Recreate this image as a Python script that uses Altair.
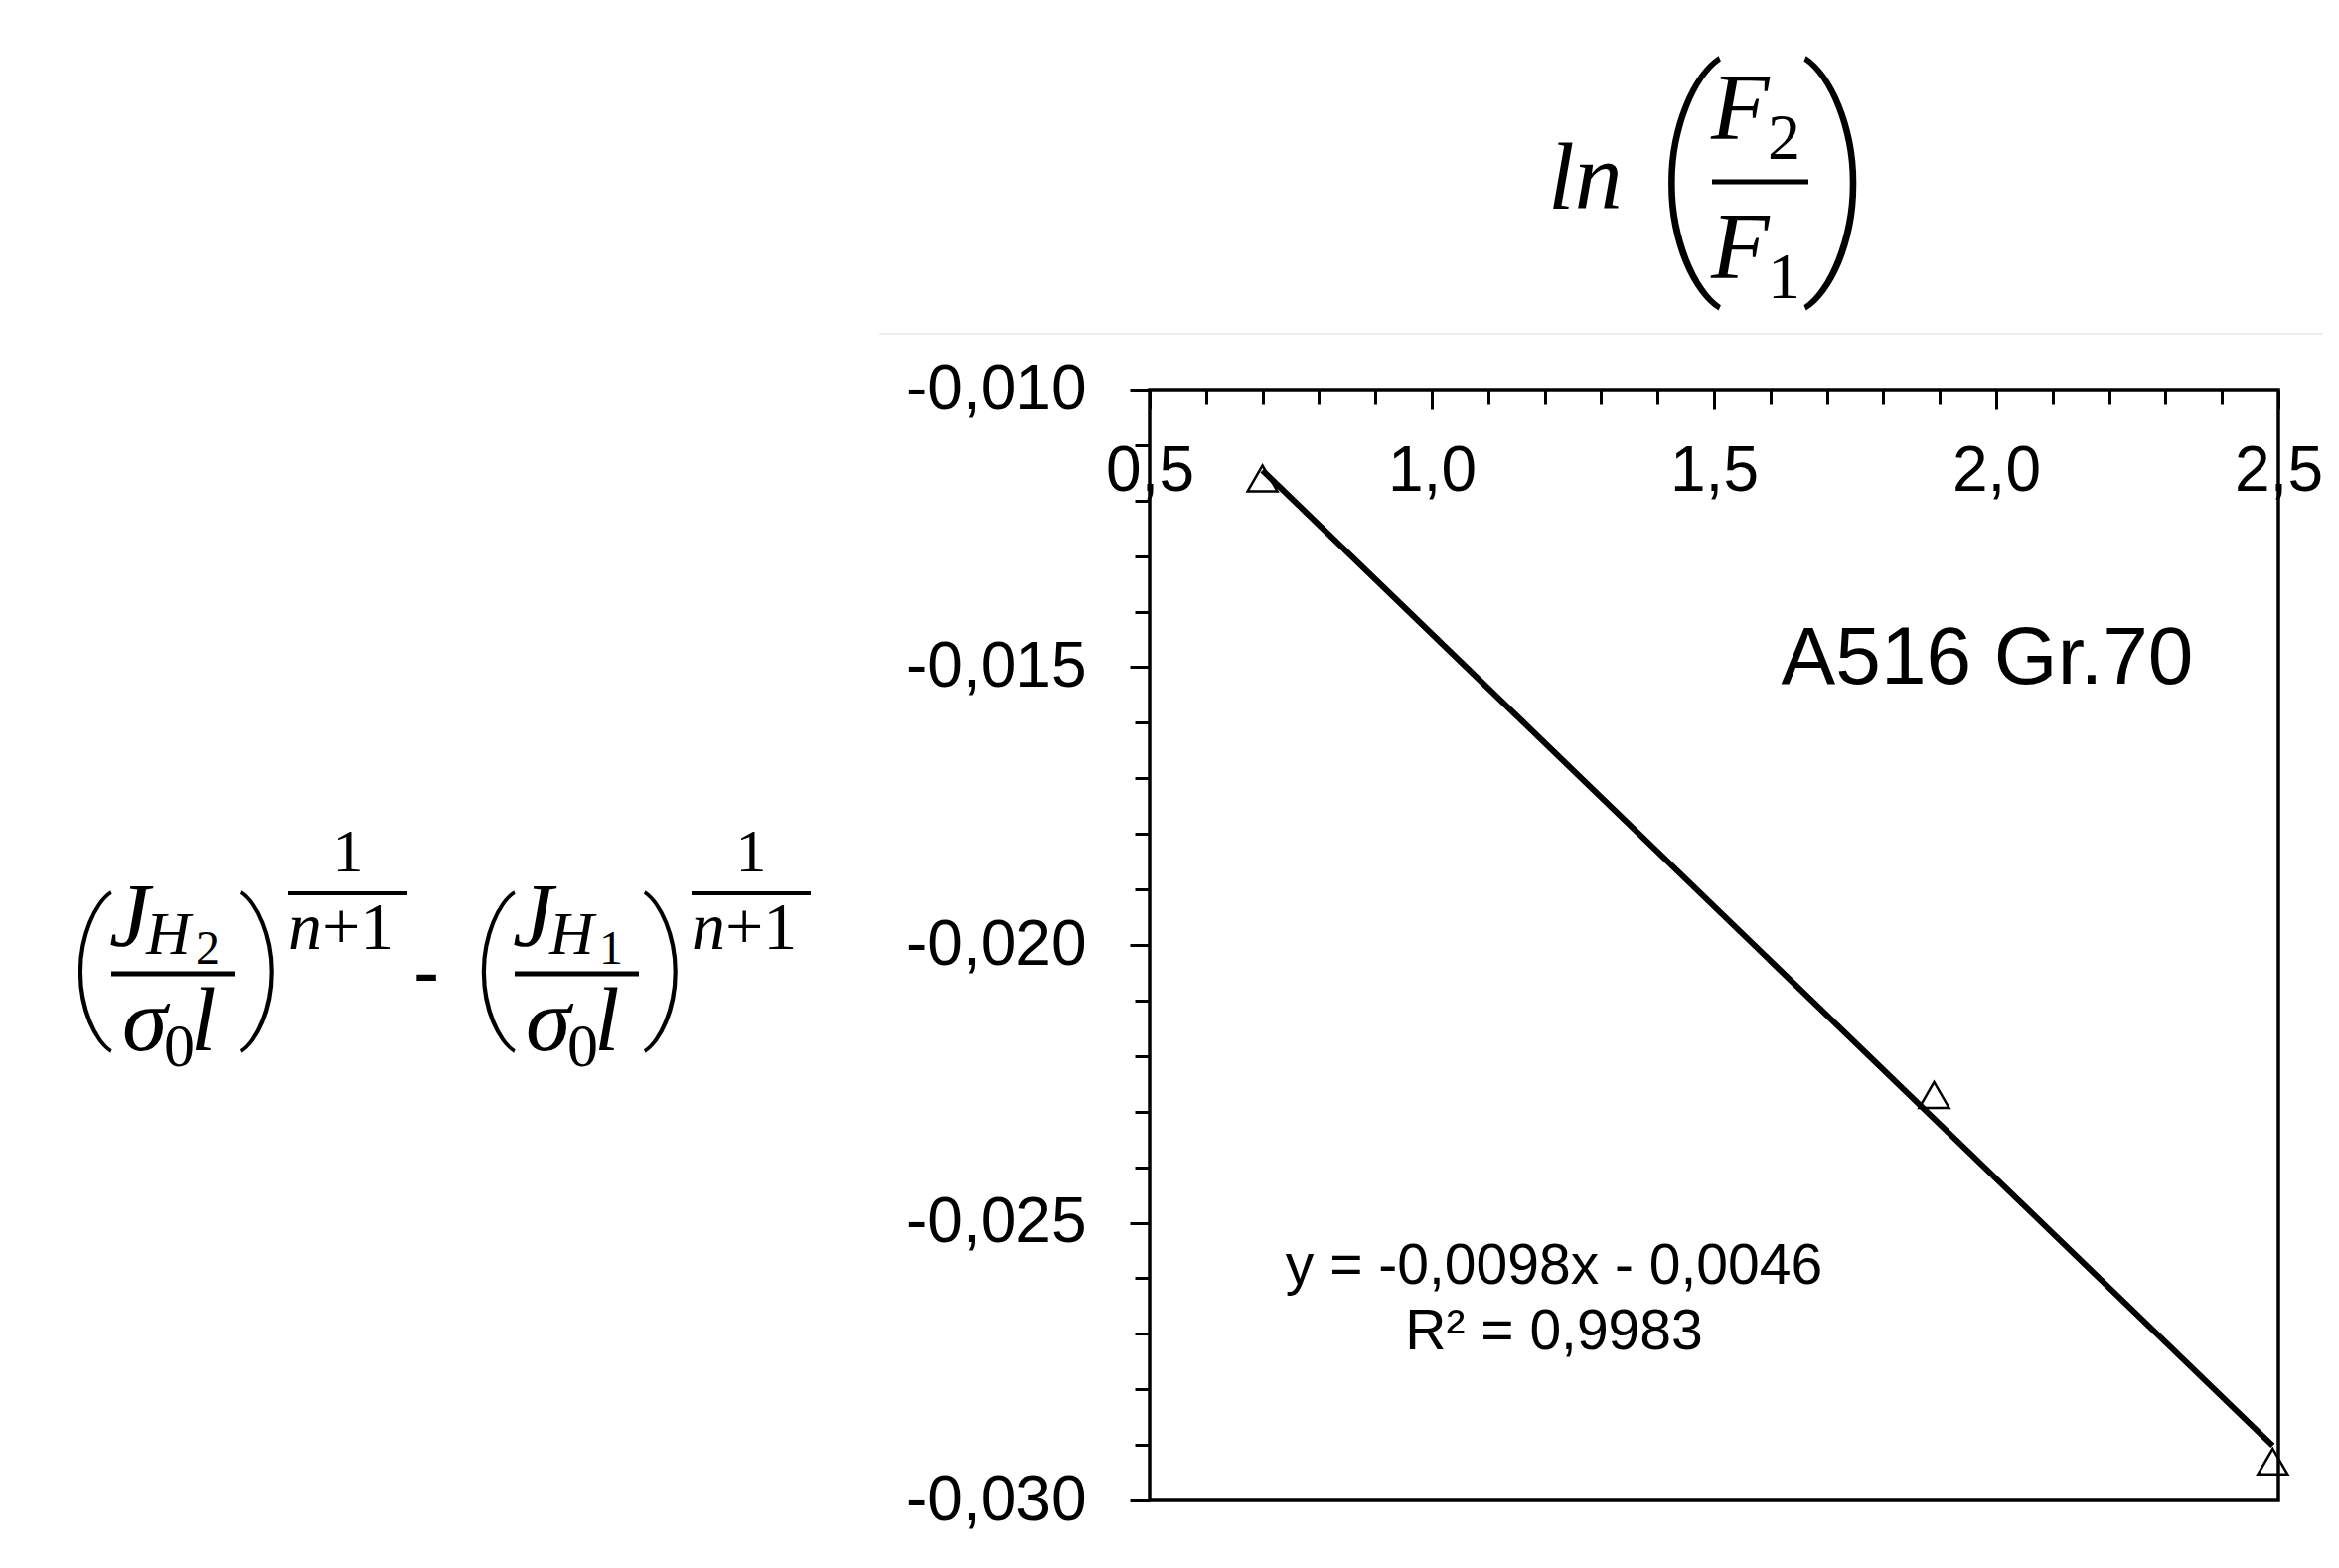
import altair as alt
import pandas as pd

# ---- data ----
x_vals = [0.70, 1.89, 2.49]
y_vals = [-0.0116, -0.0227, -0.0293]

x_major = [0.5, 1.0, 1.5, 2.0, 2.5]
x_minor = [round(0.5 + 0.1 * i, 1) for i in range(21) if i % 5 != 0]
y_major = [-0.030, -0.025, -0.020, -0.015, -0.010]
y_minor = [round(-0.030 + 0.001 * i, 3) for i in range(21) if i % 5 != 0]

material_label = "A516 Gr.70"
eq_line1 = "y = -0,0098x - 0,0046"
eq_line2 = "R² = 0,9983"

df = pd.DataFrame({"x": x_vals, "y": y_vals})
one = pd.DataFrame({"k": [0]})

W, H = 1136, 1118
X0, Y0 = 1157, 392  # page position of the plot origin

SERIF = "Liberation Serif"
SANS = "Liberation Sans"
PF = "Roboto"  # thin parentheses

xscale = alt.Scale(domain=[0.5, 2.5], nice=False, zero=False)
yscale = alt.Scale(domain=[-0.030, -0.010], nice=False, zero=False)

x_lab = "replace(format(datum.value, '.1f'), '.', ',')"
y_lab = "'-' + replace(format(abs(datum.value), '.3f'), '.', ',')"

points = alt.Chart(df).mark_point(
    shape="triangle-up", filled=False, size=900, color="black", strokeWidth=2.5, opacity=1
).encode(
    x=alt.X("x:Q", scale=xscale, axis=alt.Axis(
        orient="bottom", offset=-H, values=x_major, tickSize=20, tickWidth=3,
        tickColor="black", domain=False, grid=False, labelExpr=x_lab,
        labelFont=SANS, labelFontSize=64, labelColor="black", labelPadding=30,
        labelFlush=False, labelOverlap=False, labelLimit=0, title=None)),
    y=alt.Y("y:Q", scale=yscale, axis=alt.Axis(
        orient="left", values=y_major, tickSize=20, tickWidth=3,
        tickColor="black", domain=False, grid=False, labelExpr=y_lab,
        labelFont=SANS, labelFontSize=64, labelColor="black", labelPadding=44,
        labelFlush=False, labelOverlap=False, labelLimit=0, title=None)),
)

trend = alt.Chart(df).transform_regression("x", "y").mark_line(
    color="black", strokeWidth=6
).encode(
    x=alt.X("x:Q", scale=xscale, axis=alt.Axis(
        orient="bottom", offset=-H, values=x_minor, tickSize=15, tickWidth=3,
        tickColor="black", domain=False, grid=False, labels=False, title=None)),
    y=alt.Y("y:Q", scale=yscale, axis=alt.Axis(
        orient="left", values=y_minor, tickSize=15, tickWidth=3,
        tickColor="black", domain=False, grid=False, labels=False, title=None)),
)


def txt(s, x, y, size, font=SERIF, style="italic", align="left", weight="normal"):
    return alt.Chart(one).mark_text(
        text=s, font=font, fontSize=size, fontStyle=style, fontWeight=weight,
        align=align, baseline="alphabetic", color="black"
    ).encode(x=alt.value(x - X0), y=alt.value(y - Y0))


def bar(x1, x2, y, w=5, color="black"):
    return alt.Chart(one).mark_rule(color=color, strokeWidth=w).encode(
        x=alt.value(x1 - X0), x2=alt.value(x2 - X0), y=alt.value(y - Y0))


layers = [trend, points]

# in-plot annotations
layers.append(txt(material_label, 2000, 688, 82, font=SANS, style="normal", align="center"))
layers.append(txt(eq_line1, 1564, 1292, 57, font=SANS, style="normal", align="center"))
layers.append(txt(eq_line2, 1564, 1358, 57, font=SANS, style="normal", align="center"))

# faint separator line above the plot
layers.append(bar(885, 2354, 336, w=2, color="#efefef"))

# top formula: ln(F2/F1)
layers += [
    txt("ln", 1558, 210, 96),
    txt("(", 1698, 255, 250, font=PF, style="normal", align="center", weight=100),
    txt("F", 1722, 140, 96),
    txt("2", 1779, 160, 66, style="normal"),
    bar(1723, 1820, 183),
    txt("F", 1722, 280, 96),
    txt("1", 1779, 300, 66, style="normal"),
    txt(")", 1850, 255, 250, font=PF, style="normal", align="center", weight=100),
]

# left formula: (J_H2/σ0 l)^(1/(n+1)) - (J_H1/σ0 l)^(1/(n+1))
for d, sub in [(0, "2"), (406, "1")]:
    layers += [
        txt("(", 91 + d, 1023, 160, font=PF, style="normal", align="center", weight=100),
        txt("J", 110 + d, 952, 92),
        txt("H", 147 + d, 960, 62),
        txt(sub, 197 + d, 970, 48, style="normal"),
        bar(112 + d, 237 + d, 980),
        txt("σ", 123 + d, 1057, 92),
        txt("0", 165 + d, 1073, 62, style="normal"),
        txt("l", 192 + d, 1057, 92),
        txt(")", 264 + d, 1023, 160, font=PF, style="normal", align="center", weight=100),
        txt("1", 350 + d, 877, 62, style="normal", align="center"),
        bar(290 + d, 410 + d, 899, w=4),
        txt("n", 290 + d, 955, 68),
        txt("+1", 324 + d, 955, 68, style="normal"),
    ]
layers.append(txt("-", 429, 1005, 80, font=SANS, style="normal", align="center"))

chart = alt.layer(*layers).resolve_axis(
    x="independent", y="independent"
).properties(
    width=W, height=H,
    autosize=alt.AutoSizeParams(type="none"),
    padding={"left": X0 - 8, "top": Y0 - 8, "right": 45, "bottom": 50},
    background="white",
).configure_view(stroke="black", strokeWidth=3.5)

chart.save("out.html", embed_options={"renderer": "svg", "actions": False})
